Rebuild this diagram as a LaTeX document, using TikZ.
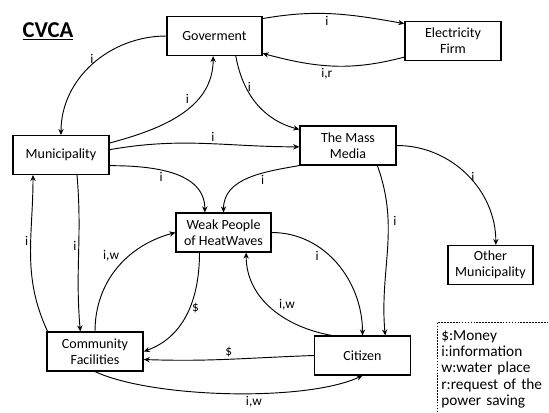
\documentclass[tikz,border=0pt]{standalone}
\usepackage{fontspec}
\setmainfont{Carlito}
\usetikzlibrary{arrows.meta}
\begin{document}
\begin{tikzpicture}[x=0.75pt,y=0.75pt,
box/.style={draw,line width=1.1pt,minimum height=\kbh pt,align=center,inner sep=1pt,font=\fontsize{10.5}{12}\selectfont},
flow/.style={-{Stealth[length=4.5pt,width=4pt]},line width=0.7pt},
lbl/.style={font=\fontsize{10}{12}\selectfont,inner sep=1.5pt}]
\pgfmathsetmacro{\kbh}{29}
\clip(0,0)rectangle(549,412);
\node[font=\fontsize{17}{20}\selectfont\bfseries](title)at(48,381){\underline{CVCA}};
\foreach \nm/\px/\py/\kbw/\txt in {gov/214.5/376/71/{Goverment},elec/453/371/72/{Electricity\\Firm},muni/61/257/72/{Municipality},media/348/266.5/72/{The Mass\\Media},weak/223.5/179.5/71/{Weak People\\of HeatWaves},other/490.5/147/64/{Other\\Municipality},comm/95/60.5/72/{Community\\Facilities},citz/362.5/56.5/72/{Citizen}}{\node[box,minimum width=\kbw pt](\nm)at(\px,\py){\txt};}
\node[draw,dash pattern=on 1.2pt off 1pt,line width=0.5pt,anchor=north west,align=left,text width=150pt,inner xsep=3pt,inner ysep=6pt,font=\fontsize{11.5}{12.3}\selectfont](key)at(437,90){\$:Money\\i:information\\w:water place\\r:request of the\\power saving};
\draw[flow]([yshift=-2pt]gov.north east)to[out=10,in=170]node[lbl,below,pos=.45]{i}([yshift=-2pt]elec.north west);
\draw[flow]([yshift=3pt]elec.south west)to[out=195,in=-15]node[lbl,below,pos=.55]{i,r}([yshift=2pt]gov.south east);
\draw[flow](gov.west)to[out=180,in=90]node[lbl,pos=.45,left=2pt]{i}(muni.north);
\draw[flow]([yshift=9pt]muni.east)to[out=15,in=-90]node[lbl,pos=.6,above left]{i}([xshift=-1pt]gov.south);
\draw[flow]([xshift=16pt]gov.south)to[out=-80,in=165]node[lbl,pos=.3,right]{i}([yshift=-3pt]media.north west);
\draw[flow]([yshift=4pt]muni.east)to[out=10,in=180]node[lbl,above,pos=.55]{i}([yshift=-1pt]media.west);
\draw[flow]([yshift=-8pt]muni.east)to[out=0,in=90]node[lbl,pos=.4,below]{i}([xshift=-14pt]weak.north);
\draw[flow](media.south west)to[out=190,in=90]node[lbl,pos=.35,below]{i}(weak.north);
\draw[flow](media.east)to[out=0,in=90]node[lbl,pos=.52,right]{i}([xshift=4pt]other.north);
\draw[flow]([xshift=22pt]media.south)to[out=-70,in=95]node[lbl,pos=.32,right=2pt]{i}([xshift=17pt]citz.north);
\draw[flow](weak.east)to[out=0,in=90]node[lbl,pos=.35,below left]{i}(citz.north);
\draw[flow]([xshift=-23pt]citz.north)to[out=170,in=-90]node[lbl,pos=.45,above right]{i,w}([xshift=17pt]weak.south);
\draw[flow]([xshift=12pt]muni.south)to[out=-85,in=95]node[lbl,pos=.45,left]{i}([xshift=-11pt]comm.north);
\draw[flow]([xshift=1pt]comm.north west)to[out=115,in=-90]node[lbl,pos=.6,left]{i}([xshift=-21pt]muni.south);
\draw[flow](comm.north)to[out=90,in=195]node[lbl,pos=.55,above left]{i,w}(weak.west);
\draw[flow]([xshift=-18pt]weak.south)to[out=-90,in=20]node[lbl,pos=.45,right]{\$}(comm.east);
\draw[flow](citz.west)to[out=182,in=-2]node[lbl,pos=.5,above]{\$}([yshift=-6pt]comm.east);
\draw[flow](comm.south)to[out=-25,in=-155,looseness=.6]node[lbl,pos=.58,below]{i,w}(citz.south);
\end{tikzpicture}
\end{document}
